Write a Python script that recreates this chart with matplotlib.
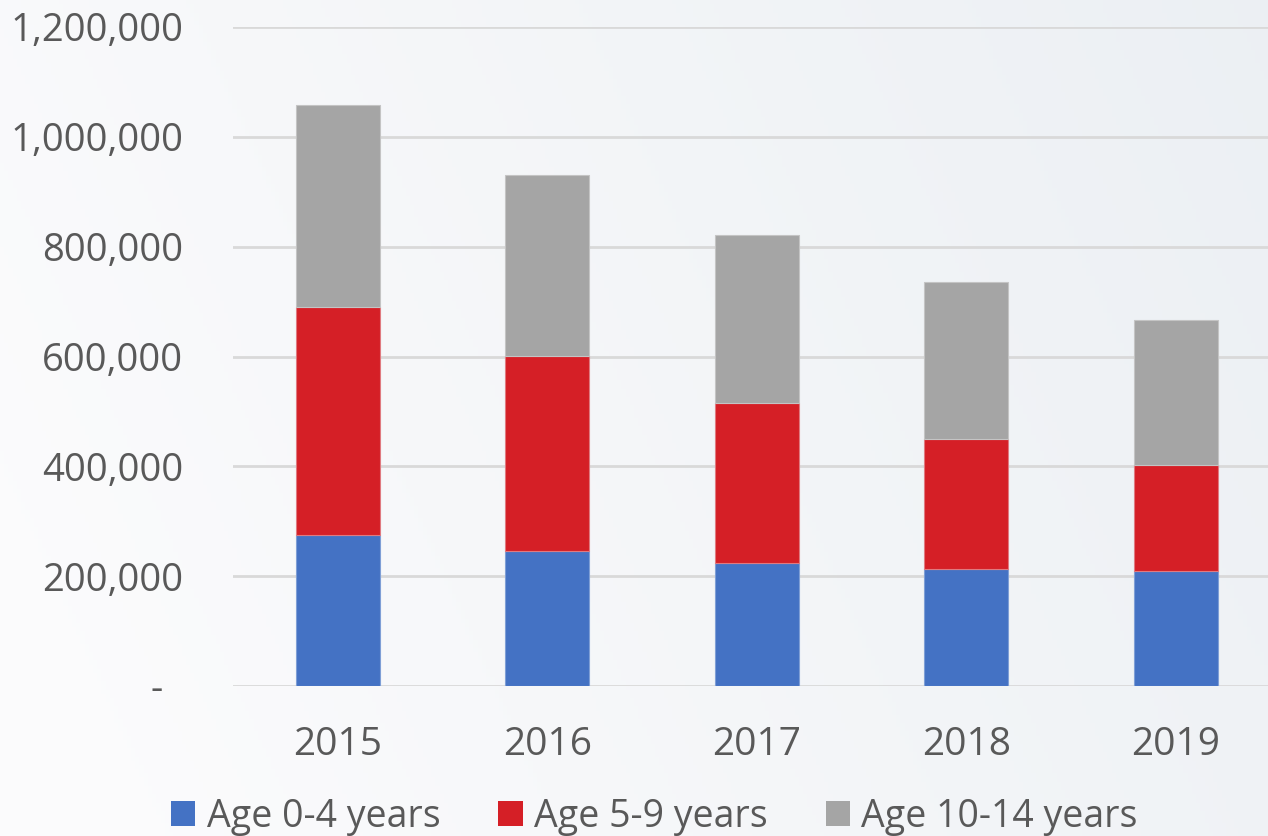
import numpy as np
import matplotlib
matplotlib.use("Agg")
import matplotlib.pyplot as plt
from matplotlib.ticker import FuncFormatter
from matplotlib.patches import Patch

years = ["2015", "2016", "2017", "2018", "2019"]
age_0_4 = [275000, 246000, 224000, 213000, 209000]
age_5_9 = [415000, 355000, 291000, 237000, 193000]
age_10_14 = [368000, 329000, 306000, 286000, 264000]
series_names = ["Age 0-4 years", "Age 5-9 years", "Age 10-14 years"]
colors = ["#4472C4", "#D51F26", "#A5A5A5"]
ytick_values = [0, 200000, 400000, 600000, 800000, 1000000, 1200000]

plt.rcParams['font.family'] = ['Open Sans', 'DejaVu Sans']
text_color = "#595959"

fig = plt.figure(figsize=(12.68, 8.36), dpi=100)

# background gradient
bg = fig.add_axes([0, 0, 1, 1], zorder=-10)
bg.set_axis_off()
h, w = 200, 300
yy, xx = np.mgrid[0:h, 0:w]
t = np.clip((xx / w) * 0.85 - (yy / h) * 0.25 + 0.15, 0, 1)
c0 = np.array([0.985, 0.985, 0.99])
c1 = np.array([0.925, 0.94, 0.955])
img = c0[None, None, :] * (1 - t[..., None]) + c1[None, None, :] * t[..., None]
bg.imshow(img, aspect='auto', extent=[0, 1, 0, 1], origin='upper')
bg.set_xlim(0, 1); bg.set_ylim(0, 1)

ax = fig.add_axes([233/1268, 150/836, (1268-233)/1268, (686-27)/836])
ax.patch.set_alpha(0)

x = np.arange(len(years))
b1 = np.array(age_0_4)
b2 = b1 + np.array(age_5_9)
ax.bar(x, age_0_4, width=0.4, color=colors[0], edgecolor="#7f9fd6", linewidth=0.8, zorder=3)
ax.bar(x, age_5_9, bottom=b1, width=0.4, color=colors[1], edgecolor="#e07a80", linewidth=0.8, zorder=3)
ax.bar(x, age_10_14, bottom=b2, width=0.4, color=colors[2], edgecolor="#c4c4c4", linewidth=0.8, zorder=3)

ax.set_xlim(-0.5, 4.44)
ax.set_ylim(0, 1200000)
ax.set_yticks(ytick_values)
ax.yaxis.set_major_formatter(FuncFormatter(lambda v, p: "-  " if v == 0 else f"{int(v):,}"))
ax.set_xticks(x)
ax.set_xticklabels(years)
ax.tick_params(axis='y', length=0, pad=36, labelsize=27.5, labelcolor=text_color)
ax.tick_params(axis='x', length=0, pad=29, labelsize=28, labelcolor=text_color)
ax.grid(axis='y', color="#D9D9D9", linewidth=2, zorder=0)
for s in ax.spines.values():
    s.set_visible(False)

handles = [Patch(facecolor=c, edgecolor='none') for c in colors]
leg = fig.legend(handles, series_names, loc='center', bbox_to_anchor=(0.516, 19/836), ncol=3,
                 frameon=False, fontsize=27, handlelength=0.65, handleheight=0.65,
                 handletextpad=0.3, columnspacing=1.55, labelcolor=text_color)

fig.savefig("out.png", dpi=100)
